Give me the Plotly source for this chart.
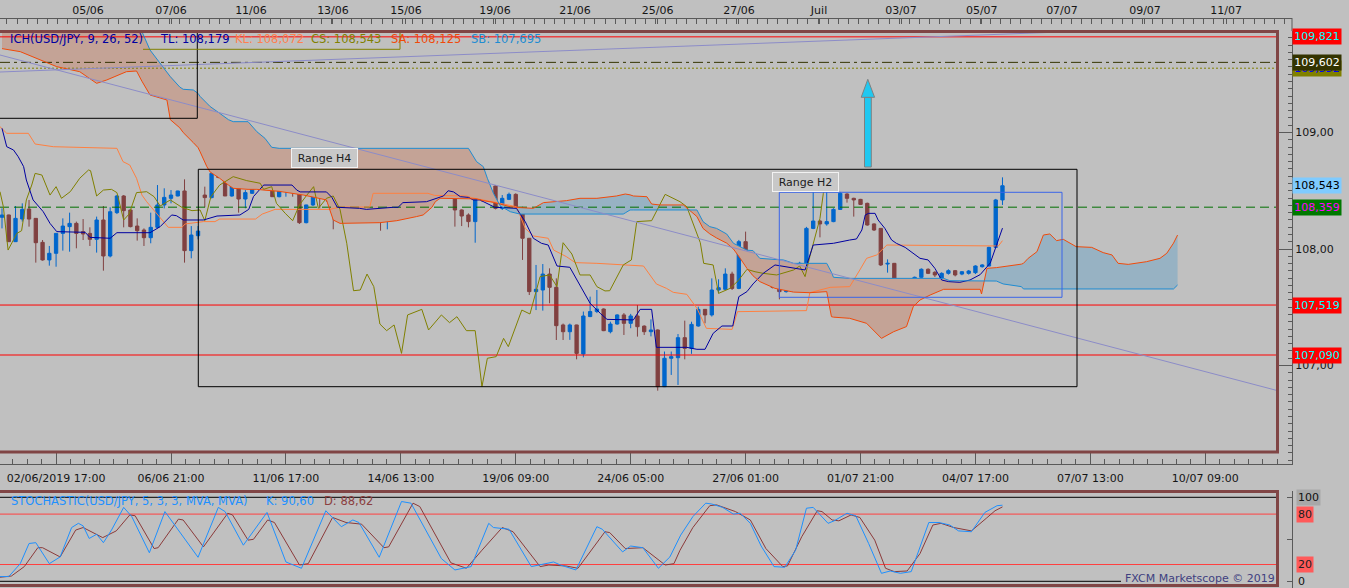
import plotly.graph_objects as go

W, H = 1349, 588
FONT = "DejaVu Sans"
BG = "#C0C0C0"
AX = "#5A5A5A"
FRAME = "#804545"
BLUE = "#0066CC"
BROWN = "#804040"

# ---- USD/JPY H4 candles (bar index 0..148) ----
opens = [108.272, 108.292, 108.063, 108.257, 108.343, 108.263, 108.057, 107.906, 107.963, 108.134,
         108.192, 108.220, 108.149, 108.134, 108.083, 108.249, 107.940, 108.312, 108.455, 108.335,
         108.197, 108.163, 108.097, 108.186, 108.378, 108.435, 108.455, 108.498, 107.986, 108.114,
         108.463, 108.441, 108.655, 108.621, 108.455, 108.541, 108.429, 108.478, 108.587, 108.655,
         108.684, 108.449, 108.506, 108.521, 108.492, 108.226, 108.378, 108.492, 108.500, 108.492,
         108.349, 108.378, 108.463, 108.429, 108.349, 108.329, 108.335, 108.249, 108.463, 108.541,
         108.478, 108.621, 108.601, 108.578, 108.549, 108.569, 108.506, 108.535, 108.335, 108.292,
         108.235, 108.449, 108.429, 108.541, 108.349, 108.426, 108.469, 108.349, 108.092, 107.634,
         107.648, 107.785, 107.671, 107.348, 107.290, 107.348, 107.099, 107.420, 107.463, 107.485,
         107.290, 107.356, 107.434, 107.362, 107.425, 107.338, 107.290, 107.305, 106.818, 107.062,
         107.067, 107.239, 107.147, 107.339, 107.482, 107.434, 107.648, 107.654, 107.785, 107.662,
         108.063, 107.934, 107.850, 107.734, 107.777, 107.677, 107.634, 107.654, 107.757, 107.877,
         108.177, 108.240, 108.215, 108.235, 108.340, 108.472, 108.435, 108.426, 108.392, 108.215,
         108.177, 107.871, 107.877, 107.634, 107.625, 107.682, 107.757, 107.826, 107.800, 107.748,
         107.791, 107.814, 107.785, 107.791, 107.797, 107.848, 107.854, 108.014, 108.421]
highs = [108.349, 108.295, 108.369, 108.392, 108.421, 108.263, 108.077, 108.026, 108.134, 108.263,
         108.312, 108.235, 108.257, 108.186, 108.278, 108.369, 108.358, 108.463, 108.463, 108.335,
         108.263, 108.177, 108.312, 108.549, 108.521, 108.506, 108.500, 108.598, 108.197, 108.197,
         108.535, 108.664, 108.707, 108.649, 108.607, 108.549, 108.506, 108.627, 108.692, 108.787,
         108.721, 108.549, 108.549, 108.525, 108.495, 108.380, 108.535, 108.521, 108.521, 108.498,
         108.398, 108.500, 108.521, 108.435, 108.378, 108.378, 108.340, 108.465, 108.545, 108.578,
         108.664, 108.692, 108.635, 108.721, 108.684, 108.678, 108.564, 108.540, 108.340, 108.306,
         108.607, 108.492, 108.578, 108.549, 108.463, 108.484, 108.478, 108.363, 108.092, 107.863,
         107.871, 107.834, 107.748, 107.360, 107.360, 107.350, 107.463, 107.591, 107.648, 107.490,
         107.376, 107.440, 107.450, 107.443, 107.519, 107.345, 107.396, 107.310, 107.120, 107.120,
         107.270, 107.385, 107.376, 107.505, 107.485, 107.748, 107.740, 107.834, 107.805, 108.078,
         108.149, 107.950, 107.877, 107.877, 107.791, 107.691, 107.700, 107.770, 107.890, 108.190,
         108.492, 108.250, 108.492, 108.350, 108.490, 108.478, 108.440, 108.430, 108.398, 108.220,
         108.180, 107.911, 107.880, 107.640, 107.695, 107.763, 107.834, 107.834, 107.810, 107.800,
         107.826, 107.820, 107.810, 107.820, 107.860, 107.870, 108.020, 108.430, 108.615]
lows = [108.177, 108.060, 108.060, 108.235, 108.192, 107.883, 107.900, 107.857, 107.848, 107.986,
        107.977, 108.006, 108.077, 108.026, 107.969, 107.814, 107.928, 108.300, 108.186, 108.186,
        108.072, 108.026, 108.049, 108.177, 108.349, 108.392, 108.452, 107.883, 107.920, 108.083,
        108.358, 108.435, 108.607, 108.455, 108.449, 108.312, 108.349, 108.472, 108.564, 108.650,
        108.449, 108.443, 108.449, 108.449, 108.215, 108.220, 108.369, 108.349, 108.406, 108.169,
        108.235, 108.375, 108.358, 108.249, 108.312, 108.312, 108.157, 108.169, 108.378, 108.500,
        108.472, 108.578, 108.558, 108.535, 108.506, 108.506, 108.492, 108.192, 108.197, 108.186,
        108.054, 108.406, 108.421, 108.340, 108.335, 108.420, 108.349, 107.906, 107.605, 107.476,
        107.471, 107.534, 107.219, 107.219, 107.220, 107.053, 107.070, 107.415, 107.450, 107.295,
        107.276, 107.350, 107.262, 107.320, 107.248, 107.262, 107.250, 106.784, 106.815, 106.919,
        106.833, 107.053, 107.100, 107.333, 107.362, 107.420, 107.620, 107.648, 107.648, 107.655,
        107.920, 107.780, 107.740, 107.728, 107.662, 107.568, 107.625, 107.630, 107.750, 107.870,
        108.170, 108.100, 108.200, 108.230, 108.335, 108.398, 108.278, 108.378, 108.200, 108.155,
        107.854, 107.797, 107.619, 107.534, 107.591, 107.680, 107.750, 107.785, 107.760, 107.740,
        107.780, 107.765, 107.775, 107.780, 107.785, 107.840, 107.850, 108.010, 108.378]
closes = [108.292, 108.063, 108.263, 108.340, 108.257, 108.054, 107.906, 107.963, 108.134, 108.197,
          108.220, 108.134, 108.129, 108.083, 108.249, 107.940, 108.320, 108.455, 108.329, 108.192,
          108.157, 108.097, 108.186, 108.378, 108.443, 108.463, 108.498, 107.986, 108.120, 108.154,
          108.441, 108.649, 108.615, 108.455, 108.541, 108.429, 108.484, 108.592, 108.664, 108.678,
          108.449, 108.512, 108.521, 108.484, 108.226, 108.378, 108.498, 108.478, 108.463, 108.335,
          108.378, 108.463, 108.429, 108.335, 108.320, 108.349, 108.235, 108.463, 108.541, 108.569,
          108.635, 108.598, 108.569, 108.549, 108.569, 108.512, 108.529, 108.335, 108.283, 108.235,
          108.443, 108.429, 108.541, 108.349, 108.435, 108.469, 108.363, 108.092, 107.634, 107.654,
          107.785, 107.671, 107.342, 107.290, 107.348, 107.104, 107.425, 107.463, 107.485, 107.299,
          107.356, 107.434, 107.362, 107.425, 107.333, 107.290, 107.305, 106.818, 107.062, 107.076,
          107.239, 107.147, 107.353, 107.482, 107.434, 107.648, 107.668, 107.785, 107.662, 108.063,
          107.934, 107.800, 107.748, 107.777, 107.671, 107.634, 107.654, 107.757, 107.877, 108.177,
          108.240, 108.215, 108.235, 108.340, 108.478, 108.435, 108.421, 108.383, 108.206, 108.163,
          107.863, 107.877, 107.625, 107.625, 107.691, 107.757, 107.826, 107.791, 107.777, 107.791,
          107.814, 107.777, 107.805, 107.811, 107.854, 107.863, 108.014, 108.421, 108.543]
bars = list(range(len(closes)))

# ---- Ichimoku (9, 26, 52): (bar index, price) ----
tenkan_pts = [(0, 109.036), (0.7, 108.878), (1.7, 108.850), (2.4, 108.792), (3.2, 108.707), (3.6, 108.592),
              (4.6, 108.421), (6.1, 108.320), (7.1, 108.220), (8.1, 108.149), (12.3, 108.143), (13, 108.10),
              (16, 108.092), (17, 108.14), (21.9, 108.14), (23.4, 108.192), (25.1, 108.292), (25.8, 108.286),
              (26.8, 108.249), (29.8, 108.249), (31.8, 108.283), (35.2, 108.292), (36.5, 108.34), (37.2, 108.45),
              (38.5, 108.535), (38.7, 108.549), (42.9, 108.549), (43.6, 108.506), (44.1, 108.49), (48, 108.49),
              (48.8, 108.443), (49.6, 108.358), (52.9, 108.349), (53.9, 108.34), (57.9, 108.358), (58.6, 108.358),
              (59.3, 108.398), (62.8, 108.406), (65.3, 108.455), (66, 108.50), (66.8, 108.49), (67.8, 108.449),
              (69, 108.443), (69.7, 108.421), (70.7, 108.421), (72.9, 108.358), (76.1, 108.349), (77.4, 108.235),
              (78.6, 108.092), (79.8, 108.049), (80.8, 108.034), (82.1, 107.854), (84, 107.843), (86, 107.634),
              (87, 107.534), (88.5, 107.448), (89.5, 107.396), (93.4, 107.391), (94.4, 107.482), (96.1, 107.482),
              (96.8, 107.156), (101.3, 107.156), (102.8, 107.139), (104, 107.139), (105.2, 107.276),
              (106.5, 107.339), (108.1, 107.339), (109, 107.591), (110.2, 107.634), (111.1, 107.70),
              (112.6, 107.791), (114.35, 107.863), (118.8, 107.820), (120, 108.034), (123, 108.049),
              (125.4, 108.077), (126.4, 108.086), (127.2, 108.163), (127.7, 108.292), (128.2, 108.306),
              (129.15, 108.306), (129.6, 108.249), (130.6, 108.177), (131.6, 108.077), (132.3, 108.049),
              (133.6, 108.014), (134.8, 107.963), (135.8, 107.920), (137, 107.906), (138, 107.834),
              (139, 107.734), (140, 107.720), (141.7, 107.714), (143.2, 107.734), (144.7, 107.78),
              (146.2, 107.88), (147.1, 108.03), (148, 108.179)]
kijun_pts = [(-0.3, 109.05), (0.7, 108.993), (3.9, 108.993), (4.9, 108.901), (7.6, 108.878), (14.5, 108.864),
             (17, 108.864), (17.9, 108.750), (18.9, 108.721), (19.9, 108.607), (20.7, 108.463), (21.4, 108.406),
             (23.4, 108.263), (24.6, 108.186), (26.6, 108.186), (27.1, 108.215), (29.8, 108.235), (31.5, 108.235),
             (32.2, 108.257), (37.5, 108.257), (38.5, 108.30), (40.4, 108.34), (48.5, 108.34), (50, 108.36),
             (54.4, 108.36), (54.9, 108.478), (63, 108.478), (64, 108.46), (68.7, 108.455), (69.5, 108.44),
             (73.7, 108.392), (76.1, 108.363), (77.4, 108.177), (78.6, 108.112), (80.8, 108.092), (81.6, 107.991),
             (83.5, 107.934), (84.8, 107.883), (88, 107.877), (94.9, 107.854), (96.8, 107.70), (98.3, 107.662),
             (99.3, 107.628), (101.3, 107.611), (102.8, 107.491), (103.7, 107.376), (104.2, 107.319),
             (108, 107.310), (108.8, 107.462), (119, 107.471), (119.5, 107.625), (122.5, 107.671),
             (125.4, 107.677), (126.9, 107.820), (127.9, 107.920), (129.4, 107.949), (130.9, 108.034),
             (147.4, 108.026), (148, 108.072)]
chikou_pts = [(-0.3, 108.492), (0.2, 108.363), (0.9, 107.991), (2.2, 108.134), (2.9, 108.157), (3.6, 108.421),
              (4.4, 108.549), (4.9, 108.649), (5.9, 108.635), (7.1, 108.463), (8, 108.535), (8.8, 108.435),
              (10.1, 108.492), (11.5, 108.607), (12.8, 108.678), (13.1, 108.672), (14, 108.455), (15, 108.506),
              (16.2, 108.512), (17, 108.484), (18, 108.249), (18.8, 108.300), (19.9, 108.484), (21.4, 108.492),
              (22.5, 108.449), (23.4, 108.369), (24.9, 108.421), (26.6, 108.358), (28.1, 108.329), (29.3, 108.335),
              (30, 108.243), (30.9, 108.449), (32.2, 108.549), (34.2, 108.621), (36.2, 108.587), (38.2, 108.564),
              (38.7, 108.512), (39.9, 108.535), (40.6, 108.392), (41.9, 108.306), (43, 108.243), (44, 108.378),
              (45.1, 108.463), (46.1, 108.535), (46.8, 108.349), (48, 108.435), (49, 108.455), (50, 108.340),
              (51, 108.049), (52, 107.642), (53, 107.648), (54, 107.785), (55, 107.677), (55.9, 107.356),
              (56.9, 107.299), (58, 107.348), (59.1, 107.104), (60, 107.434), (62.1, 107.482), (63.1, 107.305),
              (65, 107.434), (66.2, 107.368), (67.3, 107.419), (68.7, 107.299), (70, 107.299), (71, 106.818),
              (71.8, 107.062), (73.1, 107.076), (74.2, 107.233), (74.9, 107.162), (76.9, 107.476), (78.1, 107.442),
              (79.6, 107.763), (81, 107.777), (82.1, 107.677), (83, 108.054), (84.3, 107.957), (85.5, 107.777),
              (87, 107.777), (88, 107.677), (89.2, 107.640), (89.9, 107.642), (91.9, 107.863), (93.1, 107.906),
              (93.9, 108.235), (96.1, 108.243), (98.1, 108.469), (100.3, 108.406), (101.3, 108.363),
              (103.3, 108.054), (103.8, 107.877), (105.2, 107.863), (106, 107.619), (107.7, 107.662),
              (108.9, 107.728), (110.2, 107.825), (111.4, 107.805), (112.6, 107.791), (114.6, 107.777),
              (117.1, 107.820), (118, 107.854), (118.8, 107.763), (119.5, 107.934), (120.3, 108.120),
              (121, 108.263), (121.5, 108.478), (122, 108.543)]
# cloud: (bar index, senkou A, senkou B) -- B is off the top of the chart at the far left
cloud_pts = [(0, 109.72, 110.20), (2.7, 109.694, 110.20), (8.1, 109.565, 110.20), (11.5, 109.522, 110.15),
             (14, 109.422, 110.10), (15.5, 109.451, 110.05), (18.4, 109.522, 110.00), (19.9, 109.528, 109.92),
             (20.7, 109.44, 109.866), (21.9, 109.322, 109.708), (24.4, 109.279, 109.52), (24.9, 109.11, 109.479),
             (26.3, 109.04, 109.39), (26.8, 109.00, 109.371), (28.3, 108.913, 109.365), (29.0, 108.87, 109.336),
             (29.3, 108.835, 109.31), (30.3, 108.707, 109.25), (30.8, 108.66, 109.222), (32.2, 108.607, 109.165),
             (33.5, 108.549, 109.11), (34.2, 108.521, 109.093), (36.4, 108.512, 109.093), (37.7, 108.512, 109.007),
             (38.9, 108.505, 108.950), (39.9, 108.50, 108.873), (41, 108.495, 108.864), (44.6, 108.463, 108.864),
             (48, 108.421, 108.864), (49, 108.249, 108.864), (50, 108.220, 108.864), (55.9, 108.226, 108.864),
             (58.4, 108.243, 108.864), (61.3, 108.278, 108.864), (62.3, 108.292, 108.864), (63.6, 108.358, 108.864),
             (64.1, 108.406, 108.864), (64.8, 108.435, 108.864), (69, 108.435, 108.864), (70.2, 108.43, 108.750),
             (71.2, 108.415, 108.707), (71.8, 108.41, 108.607), (72.7, 108.40, 108.478), (73.7, 108.385, 108.37),
             (75.2, 108.363, 108.32), (76.6, 108.355, 108.30), (78.6, 108.349, 108.30), (80.1, 108.398, 108.30),
             (83.5, 108.415, 108.30), (85.5, 108.435, 108.30), (88, 108.435, 108.30), (90.9, 108.455, 108.30),
             (91.9, 108.465, 108.30), (92.2, 108.472, 108.31), (92.9, 108.465, 108.335), (93.4, 108.455, 108.335),
             (95.4, 108.449, 108.335), (96.1, 108.386, 108.335), (97.3, 108.378, 108.335), (100.8, 108.378, 108.335),
             (102.8, 108.278, 108.335), (103.7, 108.177, 108.235), (104.7, 108.13, 108.192), (105.7, 108.095, 108.177),
             (107.2, 108.05, 108.129), (108.2, 108.00, 108.049), (109.2, 107.92, 108.020), (110.2, 107.834, 107.99),
             (111.1, 107.77, 107.986), (112.1, 107.72, 107.92), (114.35, 107.662, 107.91), (115.6, 107.645, 107.906),
             (117.1, 107.630, 107.877), (119.5, 107.625, 107.877), (122.0, 107.634, 107.877), (122.7, 107.419, 107.80),
             (123, 107.415, 107.757), (125.4, 107.405, 107.748), (127.9, 107.362, 107.748), (130.1, 107.233, 107.748),
             (131.9, 107.29, 107.748), (133.8, 107.334, 107.748), (134.8, 107.505, 107.748), (135.8, 107.562, 107.748),
             (137.3, 107.605, 107.748), (139.3, 107.654, 107.748), (140.2, 107.654, 107.728), (144.7, 107.654, 107.725),
             (144.9, 107.614, 107.725), (145.7, 107.834, 107.725), (147.1, 107.840, 107.725), (148.1, 107.848, 107.70),
             (149.1, 107.854, 107.69), (150.8, 107.87, 107.677), (151.1, 107.877, 107.657), (151.8, 107.92, 107.657),
             (153.1, 107.977, 107.657), (154.05, 108.120, 107.657), (155.0, 108.129, 107.657), (156.0, 108.072, 107.657),
             (157.0, 108.083, 107.657), (158.9, 108.020, 107.657), (161.2, 108.014, 107.657), (162.9, 107.969, 107.657),
             (164.2, 107.949, 107.657), (165.1, 107.877, 107.657), (166.6, 107.868, 107.657), (169.3, 107.891, 107.657),
             (171.3, 107.92, 107.657), (172.3, 107.963, 107.657), (173.3, 108.05, 107.657), (173.9, 108.120, 107.691)]

# ---- Stochastic (5, 3, 3): (bar index, value) ----
stoch_k_pts = [(-0.3, 5.6), (1.0, 5.6), (2.7, 21), (4, 45), (5, 46), (7, 21), (8.6, 29), (10.3, 64), (11.3, 69),
               (12, 66), (12.9, 51), (14, 56), (15, 46), (16.2, 61), (18, 88), (19.2, 77), (21.8, 34), (24.1, 83),
               (29, 28.6), (32, 88), (33, 83), (35.7, 43), (39.2, 82), (42, 23), (44.3, 15.5), (47.9, 84),
               (50.2, 65), (51.9, 73), (52.8, 70), (55.8, 28.6), (59.1, 95), (60.5, 93), (65, 27), (67, 13.5),
               (69.4, 17.5), (72, 69), (72.7, 64), (75, 62), (78.3, 17.5), (81.6, 23), (82.6, 19.4), (84.9, 13.5),
               (88, 65), (88.8, 62), (91.8, 35), (93, 42), (94.8, 40), (97.1, 15.5), (98.8, 29), (100.4, 55),
               (102.2, 77), (104.1, 93), (105, 92), (106.6, 88), (108.2, 80), (109.2, 81), (110.7, 69),
               (112.3, 42), (114.2, 17.5), (115.8, 16.7), (117.4, 37), (119, 87), (120, 88), (122.2, 69),
               (123.1, 72), (125, 81), (126.3, 78), (128.2, 45), (130.1, 9.5), (131.4, 12.3), (132.9, 9.5),
               (134.5, 11.5), (137.1, 70), (138.6, 70), (140.2, 67), (141.5, 60), (143.4, 59), (144.7, 75),
               (145.4, 82), (147.2, 90), (148, 90.6)]
stoch_d_pts = [(-0.3, 4.8), (1.4, 6.3), (3.3, 17.5), (5.3, 40), (6, 40), (8.6, 29), (10.9, 61), (12, 64),
               (14.9, 52), (16.9, 60), (18.9, 79), (19.7, 78), (22.5, 39), (23.1, 40), (26.1, 74), (26.8, 73),
               (29.8, 41), (33.4, 81), (34.1, 79), (36.4, 49), (37.2, 50), (39.3, 73), (40.3, 70), (44, 19.4),
               (45.3, 21), (48.9, 76), (50.9, 70), (53.2, 68), (56.5, 40), (57.2, 41), (60.8, 93), (61.8, 89),
               (66.4, 22), (68.7, 15.5), (71, 37), (74, 64), (75.6, 59), (79.6, 17.5), (80.9, 19.4), (83.4, 18.3),
               (85.2, 15.5), (89.2, 59), (89.9, 58), (92.2, 39), (94.8, 40), (98.1, 19.4), (99.4, 21), (100.3, 37),
               (102.2, 64), (104.7, 90), (105.7, 91), (108.5, 83), (110.7, 73), (113, 39), (115.5, 17.5),
               (116.2, 18.3), (118.3, 53), (120.6, 84), (121.3, 83), (122.8, 73), (123.8, 72), (125.6, 79),
               (126.9, 76), (129.1, 49), (130.7, 15.5), (132, 11.5), (133.9, 12.3), (135.8, 33), (137.7, 67),
               (138.9, 69), (140.8, 64), (143.4, 60), (145.6, 75), (146.9, 84), (148, 88.6)]

# ---- horizontal levels and axis labels ----
level_prices = [109.821, 109.602, 109.552, 108.359, 107.519, 107.090]
level_labels = ["109,821", "109,602", "109,552", "108,359", "107,519", "107,090"]
last_price = 108.543
bottom_tick_bars = [8, 25, 42, 59, 76, 93, 110, 127, 144, 161, 178]
bottom_tick_labels = ["02/06/2019 17:00", "06/06 21:00", "11/06 17:00", "14/06 13:00", "19/06 09:00",
                      "24/06 05:00", "27/06 01:00", "01/07 21:00", "04/07 17:00", "07/07 13:00", "10/07 09:00"]
top_tick_bars = [12.72, 25.0, 36.83, 48.96, 59.76, 72.93, 84.76, 96.97, 109.02, 120.86, 132.99, 144.93,
                 156.8, 169.08, 181.07]
top_tick_labels = ["05/06", "07/06", "11/06", "13/06", "15/06", "19/06", "21/06", "25/06", "27/06", "Juil",
                   "03/07", "05/07", "07/07", "09/07", "11/07"]
event_bars = [0.89, 12.87, 25.0, 29.88, 36.98, 48.96, 59.91, 60.95, 72.93, 84.91, 89.94, 97.04, 109.17,
              119.97, 121.15, 133.14, 144.97, 156.95, 169.08, 181.21]


# pixel helpers for the layout (bar spacing 6.76 px, 116.5 px per yen)
def bar_at(px):
    return (px - 2) / 6.76


def price_at(py):
    return 108 + (249 - py) / 116.5


def pxx(px):
    return px / W


def pxy(py):
    return 1 - py / H


x_range = [bar_at(0), bar_at(1292)]
x_end = bar_at(1277)
y_range = [price_at(464), price_at(31)]

fig = go.Figure()

# cloud fill, split where senkou A and B cross
cx = [p[0] for p in cloud_pts]
sa = [p[1] for p in cloud_pts]
sb = [p[2] for p in cloud_pts]
runs = []
run = ([cx[0]], [sa[0]], [sb[0]], sa[0] >= sb[0])
for i in range(1, len(cx)):
    up = sa[i] >= sb[i]
    if up != run[3]:
        d0 = sa[i - 1] - sb[i - 1]
        d1 = sa[i] - sb[i]
        t = d0 / (d0 - d1)
        xc = cx[i - 1] + t * (cx[i] - cx[i - 1])
        yc = sa[i - 1] + t * (sa[i] - sa[i - 1])
        run[0].append(xc); run[1].append(yc); run[2].append(yc)
        runs.append(run)
        run = ([xc], [yc], [yc], up)
    run[0].append(cx[i]); run[1].append(sa[i]); run[2].append(sb[i])
runs.append(run)
for xs, a, b, up in runs:
    fig.add_trace(go.Scatter(x=xs + xs[::-1], y=a + b[::-1], fill="toself", mode="lines",
                             line=dict(width=0), fillcolor="#97B2C3" if up else "#C4A396",
                             hoverinfo="skip"))

# level lines
level_styles = [("#FF0000", "solid"), ("#333300", "10px,4px,3px,4px"), ("#808000", "2px,2px"),
                ("#007000", "9px,5px"), ("#FF0000", "solid"), ("#FF0000", "solid")]
for lvl, (col, dash) in zip(level_prices, level_styles):
    fig.add_trace(go.Scatter(x=[x_range[0], x_end], y=[lvl, lvl], mode="lines",
                             line=dict(color=col, width=1, dash=dash), hoverinfo="skip"))

fig.add_trace(go.Candlestick(
    x=bars, open=opens, high=highs, low=lows, close=closes,
    increasing=dict(line=dict(color=BLUE, width=1), fillcolor=BLUE),
    decreasing=dict(line=dict(color=BROWN, width=1), fillcolor=BROWN),
    whiskerwidth=0, hoverinfo="skip"))

for pts, col in [(kijun_pts, "#FF8040"), (chikou_pts, "#808000"), (tenkan_pts, "#0000A0")]:
    fig.add_trace(go.Scatter(x=[p[0] for p in pts], y=[p[1] for p in pts], mode="lines",
                             line=dict(color=col, width=1), hoverinfo="skip"))
fig.add_trace(go.Scatter(x=cx, y=sa, mode="lines", line=dict(color="#F04A0A", width=1), hoverinfo="skip"))
fig.add_trace(go.Scatter(x=cx, y=sb, mode="lines", line=dict(color="#1E8CD2", width=1), hoverinfo="skip"))

# event markers on the top time scale
fig.add_trace(go.Scatter(x=event_bars, y=[price_at(29.5)] * len(event_bars), xaxis="x2", yaxis="y",
                         mode="markers", cliponaxis=False, hoverinfo="skip",
                         marker=dict(symbol="line-ns", size=4, line=dict(color="#703030", width=1))))
fig.add_trace(go.Scatter(x=event_bars, y=[price_at(23)] * len(event_bars), xaxis="x2", yaxis="y",
                         mode="markers", cliponaxis=False, hoverinfo="skip",
                         marker=dict(symbol="triangle-down", size=9, color="#FFA21F",
                                     line=dict(color="#D08010", width=0.5))))

# stochastic panel
for val, col, x1 in [(100, "#000000", x_end), (80, "#FF4040", x_end), (20, "#FF4040", x_end),
                     (0, "#000000", bar_at(1121))]:
    fig.add_trace(go.Scatter(x=[x_range[0], x1], y=[val, val], xaxis="x3", yaxis="y2", mode="lines",
                             line=dict(color=col, width=1), hoverinfo="skip"))
fig.add_trace(go.Scatter(x=[p[0] for p in stoch_d_pts], y=[p[1] for p in stoch_d_pts], xaxis="x3",
                         yaxis="y2", mode="lines", line=dict(color="#8B3A3A", width=1), hoverinfo="skip"))
fig.add_trace(go.Scatter(x=[p[0] for p in stoch_k_pts], y=[p[1] for p in stoch_k_pts], xaxis="x3",
                         yaxis="y2", mode="lines", line=dict(color="#1E90FF", width=1), hoverinfo="skip"))

shapes = [
    # drawn objects
    dict(type="line", xref="x", yref="y", x0=bar_at(0), y0=price_at(55), x1=x_end, y1=price_at(390.5),
         line=dict(color="#8C8CC8", width=1)),
    dict(type="line", xref="x", yref="y", x0=bar_at(0), y0=price_at(72), x1=bar_at(1100), y1=price_at(30.5),
         line=dict(color="#8C8CC8", width=1)),
    dict(type="rect", xref="x", yref="y", x0=bar_at(-5), y0=price_at(118.3), x1=bar_at(197.3), y1=110.5,
         line=dict(color="#000000", width=1)),
    dict(type="path", xref="x", yref="y",
         path=f"M {bar_at(143)},{price_at(49.3)} L {bar_at(400)},{price_at(49.3)} L {bar_at(400)},110.3",
         line=dict(color="#808000", width=1)),
    dict(type="rect", xref="x", yref="y", x0=bar_at(198.3), y0=price_at(386.7), x1=bar_at(1077),
         y1=price_at(169.3), line=dict(color="#000000", width=1)),
    dict(type="rect", xref="x", yref="y", x0=bar_at(779.3), y0=price_at(297.3), x1=bar_at(1062),
         y1=price_at(192.3), line=dict(color="#3A64E8", width=1)),
    dict(type="rect", xref="x", yref="y", x0=bar_at(864.5), y0=price_at(167), x1=bar_at(871.3),
         y1=price_at(97.3), fillcolor="#20C8F0", line=dict(color="#808080", width=1)),
    dict(type="path", xref="x", yref="y",
         path=f"M {bar_at(861.2)},{price_at(97.3)} L {bar_at(874.6)},{price_at(97.3)} "
              f"L {bar_at(867.8)},{price_at(79.3)} Z",
         fillcolor="#20C8F0", line=dict(color="#808080", width=1)),
    # panel frames
    dict(type="rect", xref="paper", yref="paper", x0=pxx(-5), y0=pxy(452), x1=pxx(1277.5), y1=pxy(31.5),
         line=dict(color=FRAME, width=3)),
    dict(type="rect", xref="paper", yref="paper", x0=pxx(-5), y0=pxy(585.5), x1=pxx(1277.5), y1=pxy(491.5),
         line=dict(color=FRAME, width=3)),
    dict(type="line", xref="paper", yref="paper", x0=pxx(1292), y0=pxy(18), x1=pxx(1292), y1=pxy(31),
         line=dict(color=AX, width=1)),
]

ann = []


def text_at(px, py, txt, color, size=11.5, anchor="left"):
    ann.append(dict(xref="paper", yref="paper", x=pxx(px), y=pxy(py), text=txt, showarrow=False,
                    xanchor=anchor, yanchor="middle", font=dict(family=FONT, size=size, color=color)))


text_at(8, 39, "ICH(USD/JPY, 9, 26, 52)", "#0000A0")
text_at(157.5, 39, "TL: 108,179", "#0000A0")
text_at(232.5, 39, "KL: 108,072", "#FF8050")
text_at(309, 39, "CS: 108,543", "#808000")
text_at(389, 39, "SA: 108,125", "#F04A0A")
text_at(468.5, 39, "SB: 107,695", "#1E8CD2")
text_at(9, 501, "STOCHASTIC(USD/JPY, 5, 3, 3, MVA, MVA)", "#1E90FF")
text_at(264, 501, "K: 90,60", "#1E90FF")
text_at(322, 501, "D: 88,62", "#8B4040")
text_at(1277, 578, "FXCM Marketscope \u00a9 2019", "#404080", size=11, anchor="right")


def price_tag(price, txt, bg, fg, yref="y", px=1292, width=48):
    ann.append(dict(xref="paper", yref=yref, x=pxx(px), y=price, text=txt, showarrow=False,
                    xanchor="left", yanchor="middle", width=width, height=15, borderpad=0,
                    bgcolor=bg, font=dict(family=FONT, size=11, color=fg)))


tag_colors = [("#FF0000", "#00FFFF"), ("#333300", "#FFFFFF"), ("#808000", "#0000FF"),
              ("#007800", "#FF00FF"), ("#FF0000", "#00FFFF"), ("#FF0000", "#00FFFF")]
order = [2, 1, 0, 3, 4, 5]
for i in order:
    price_tag(level_prices[i], level_labels[i], *tag_colors[i])
price_tag(last_price, "108,543", "#7FCBFF", "#000000")
price_tag(100, "100", "#A8A8A8", "#101010", yref="y2", px=1296, width=23)
price_tag(80, "80", "#FF5A5A", "#202020", yref="y2", px=1296, width=16)
price_tag(20, "20", "#FF5A5A", "#202020", yref="y2", px=1296, width=16)
price_tag(0, "0", "rgba(0,0,0,0)", "#101010", yref="y2", px=1296, width=9)

for cxp, cyp, txt in [(324.2, 158.3, "Range H4"), (805, 181.7, "Range H2")]:
    ann.append(dict(xref="paper", yref="paper", x=pxx(cxp), y=pxy(cyp), text=txt, showarrow=False,
                    xanchor="center", yanchor="middle", width=65, height=18, borderpad=0,
                    bgcolor="#C8C8C8", bordercolor="#F2F2F2", borderwidth=1,
                    font=dict(family=FONT, size=11, color="#202020")))

tick_font = dict(family=FONT, size=11, color="#151515")
fig.update_layout(
    width=W, height=H, autosize=False,
    margin=dict(l=0, r=0, t=0, b=0),
    paper_bgcolor=BG, plot_bgcolor=BG,
    showlegend=False,
    shapes=shapes, annotations=ann,
    xaxis=dict(domain=[0, pxx(1292)], range=x_range, anchor="y", rangeslider=dict(visible=False),
               showgrid=False, zeroline=False, showline=True, linecolor=AX, linewidth=1,
               ticks="inside", ticklen=12, tickcolor=AX, tickmode="array",
               tickvals=bottom_tick_bars, ticktext=bottom_tick_labels, tickfont=tick_font,
               ticklabelstandoff=4,
               minor=dict(tickmode="linear", tick0=8, dtick=17 / 8, ticks="inside", ticklen=5,
                          tickcolor=AX, showgrid=False)),
    xaxis2=dict(overlaying="x", anchor="free", position=pxy(18), side="top", domain=[0, pxx(1292)],
                range=x_range, showgrid=False, zeroline=False, showline=True, linecolor=AX,
                ticks="inside", ticklen=5, tickcolor=AX, tickmode="array", tickvals=top_tick_bars,
                ticktext=top_tick_labels, tickfont=tick_font,
                minor=dict(tickmode="linear", tick0=12.72, dtick=1.5, ticks="inside", ticklen=5,
                           tickcolor=AX, showgrid=False)),
    xaxis3=dict(domain=[0, pxx(1292)], range=x_range, anchor="y2", showgrid=False, zeroline=False,
                showline=False, showticklabels=False, ticks=""),
    yaxis=dict(domain=[pxy(464), pxy(31)], range=y_range, anchor="x", side="right", showgrid=False,
               zeroline=False, showline=True, linecolor=AX, ticks="inside", ticklen=13, tickcolor=AX,
               tickmode="array", tickvals=[107, 108, 109], ticktext=["107,00", "108,00", "109,00"],
               tickfont=tick_font,
               minor=dict(tickmode="linear", tick0=107, dtick=0.0625, ticks="inside", ticklen=4,
                          tickcolor=AX, showgrid=False)),
    yaxis2=dict(domain=[0, pxy(491)], range=[-7.98, 107.5], anchor="x3", side="right", showgrid=False,
                zeroline=False, showline=True, linecolor=AX, ticks="inside", ticklen=5, tickcolor=AX,
                tickmode="array", tickvals=[0, 50, 100], showticklabels=False),
)

# the page's default body margin would shift the chart; drop it
fig.write_html("out.html", config={"displayModeBar": False},
               post_script="document.body.style.margin='0';document.body.style.overflow='hidden';")
